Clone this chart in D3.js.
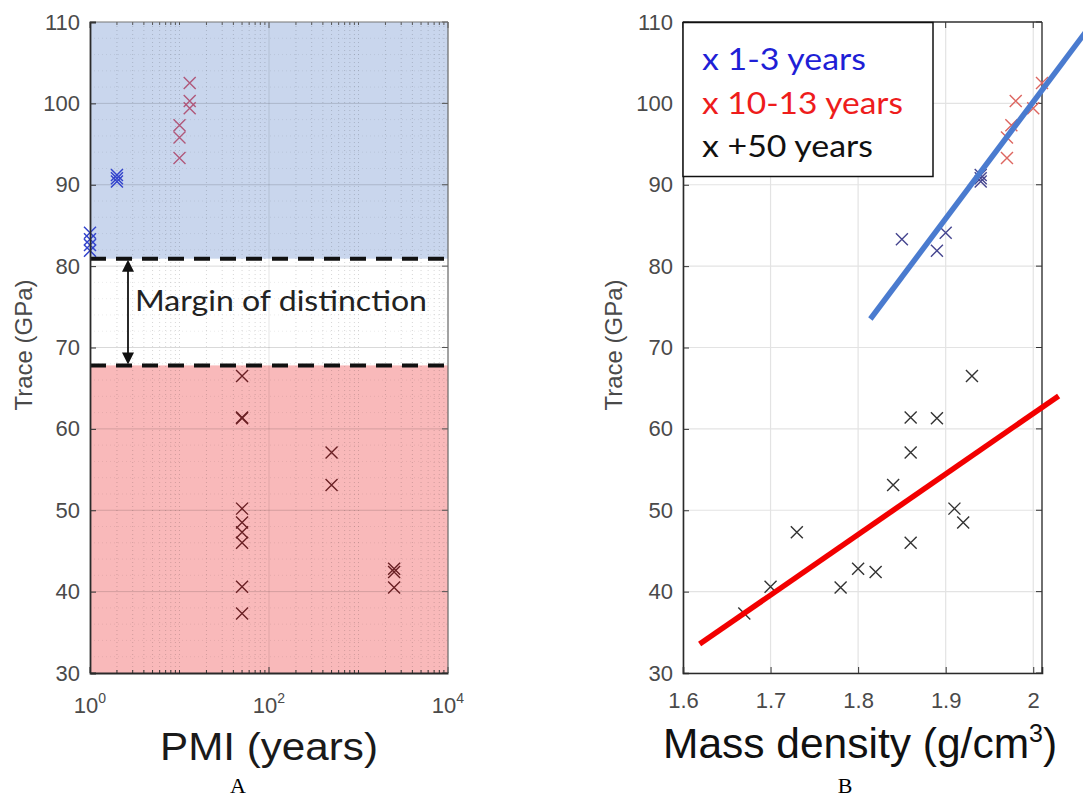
<!DOCTYPE html>
<html><head><meta charset="utf-8">
<script src="https://cdn.jsdelivr.net/npm/d3@7"></script>
<style>body{margin:0;background:#fff}svg{display:block}</style>
</head><body>
<svg id="c" width="1083" height="797"></svg>
<script>
// ---------- data ----------
const yTicks = [30,40,50,60,70,80,90,100,110];
const pmiTicks = [1,100,10000];
const pmiTickExp = ["0","2","4"];
const densityTicks = [1.6,1.7,1.8,1.9,2.0];
const densityTickLabels = ["1.6","1.7","1.8","1.9","2"];

// Panel A (PMI, years, log)
const pmi13 = [1,1,1,1,2,2,2];
const traceA13 = [84.1,83.3,82.6,81.9,91.2,90.8,90.4];
const pmi1013 = [10,10,10,13,13,13];
const traceA1013 = [97.3,95.8,93.3,102.5,100.3,99.4];
const pmi50 = [50,50,50,50,50,50,50,50,50,500,500,2500,2500,2500];
const traceA50 = [66.5,61.4,61.3,50.2,48.5,47.3,46.0,40.6,37.3,57.1,53.1,42.8,42.4,40.5];
const upperBound = 80.9, lowerBound = 67.8;

// Panel B (mass density)
const dens13 = [1.85,1.89,1.90,1.94,1.94,1.94];
const traceB13 = [83.3,81.9,84.1,91.2,90.8,90.4];
const dens1013 = [1.97,1.97,1.975,1.98,2.00,2.01];
const traceB1013 = [93.3,95.8,97.3,100.3,99.4,102.5];
const dens50 = [1.93,1.86,1.89,1.86,1.84,1.91,1.92,1.73,1.86,1.80,1.82,1.78,1.70,1.67];
const traceB50 = [66.5,61.4,61.3,57.1,53.1,50.2,48.5,47.3,46.0,42.8,42.4,40.5,40.6,37.3];
const fit13X = [1.814,2.06], fit13Y = [73.5,108.8];
const fit50X = [1.619,2.029], fit50Y = [33.55,64.05];
const legendLabels = ["x 1-3 years","x 10-13 years","x +50 years"];
const legendColors = ["#1f1fd6","#ee1c1c","#111"];

// ---------- drawing ----------
const svg = d3.select("#c");
const tickFont = "Liberation Sans, Arial, sans-serif";

const yA = d3.scaleLinear().domain([30,110]).range([673,22]);
const xA = d3.scaleLog().domain([1,10000]).range([90,448]);
const yB = yA.copy();
const xB = d3.scaleLinear().domain([1.6,2.01]).range([683,1042]);

function cross(g, xs, ys, sx, sy, color, sw){
  g.selectAll(null).data(xs.map((d,i)=>[d,ys[i]])).enter().append("path")
    .attr("d", d => { const x=sx(d[0]), y=sy(d[1]), s=6;
      return `M${x-s},${y-s}L${x+s},${y+s}M${x-s},${y+s}L${x+s},${y-s}`; })
    .attr("stroke", color).attr("stroke-width", sw||1.4).attr("fill","none");
}

// ===== Panel A =====
const A = svg.append("g");
const [ax0,ax1] = xA.range();
A.append("rect").attr("x",ax0).attr("y",yA(110)).attr("width",ax1-ax0).attr("height",yA(upperBound)-yA(110)).attr("fill","#c9d6ed");
A.append("rect").attr("x",ax0).attr("y",yA(upperBound)).attr("width",ax1-ax0).attr("height",yA(lowerBound)-yA(upperBound)).attr("fill","#ffffff");
A.append("rect").attr("x",ax0).attr("y",yA(lowerBound)).attr("width",ax1-ax0).attr("height",yA(30)-yA(lowerBound)).attr("fill","#f9b9ba");

// minor grids
const minorX = [];
for (let d=0; d<4; d++) for (let k=2;k<=10;k++){ const v=k*Math.pow(10,d); if(v<10000 && !pmiTicks.includes(v)) minorX.push(v); }
A.selectAll(null).data(minorX).enter().append("line")
  .attr("x1",d=>xA(d)).attr("x2",d=>xA(d)).attr("y1",yA(110)).attr("y2",yA(30))
  .attr("stroke","#000").attr("stroke-opacity",0.16).attr("stroke-dasharray","1,3");
const minorY = d3.range(32,110,2).filter(v=>v%10!==0);
A.selectAll(null).data(minorY).enter().append("line")
  .attr("x1",ax0).attr("x2",ax1).attr("y1",d=>yA(d)).attr("y2",d=>yA(d))
  .attr("stroke","#000").attr("stroke-opacity",0.08).attr("stroke-dasharray","1,3");
// major grids
A.selectAll(null).data(yTicks.slice(1,-1)).enter().append("line")
  .attr("x1",ax0).attr("x2",ax1).attr("y1",d=>yA(d)).attr("y2",d=>yA(d))
  .attr("stroke","#000").attr("stroke-opacity",0.15);
A.selectAll(null).data([100]).enter().append("line")
  .attr("x1",d=>xA(d)).attr("x2",d=>xA(d)).attr("y1",yA(110)).attr("y2",yA(30))
  .attr("stroke","#000").attr("stroke-opacity",0.1);

// points
cross(A, pmi13, traceA13, xA, yA, "#3344cc", 1.5);
cross(A, pmi1013, traceA1013, xA, yA, "#b0587a");
cross(A, pmi50, traceA50, xA, yA, "#6a2024");

// dashed boundaries
A.selectAll(null).data([upperBound, lowerBound]).enter().append("line")
  .attr("x1",ax0).attr("x2",ax1).attr("y1",d=>yA(d)).attr("y2",d=>yA(d))
  .attr("stroke","#111").attr("stroke-width",4).attr("stroke-dasharray","16,10");

// arrow
const arX = 128;
A.append("line").attr("x1",arX).attr("x2",arX).attr("y1",yA(upperBound)+10).attr("y2",yA(lowerBound)-10)
  .attr("stroke","#111").attr("stroke-width",1.8);
A.append("path").attr("d",`M${arX},${yA(upperBound)+1}l-6,12h12z`).attr("fill","#111");
A.append("path").attr("d",`M${arX},${yA(lowerBound)-1}l-6,-12h12z`).attr("fill","#111");
A.append("text").attr("x",135).attr("y",311).text("Margin of distinction")
  .attr("font-family","Lato, sans-serif").attr("font-size",28).attr("fill","#222")
  .attr("textLength",292).attr("lengthAdjust","spacingAndGlyphs");

// axes box + ticks
const allMinorTicks = minorX.concat([10,1000]);
A.selectAll(null).data(allMinorTicks).enter().append("line")
  .attr("x1",d=>xA(d)).attr("x2",d=>xA(d)).attr("y1",yA(30)).attr("y2",yA(30)-3).attr("stroke","#333");
A.selectAll(null).data(allMinorTicks).enter().append("line")
  .attr("x1",d=>xA(d)).attr("x2",d=>xA(d)).attr("y1",yA(110)).attr("y2",yA(110)+3).attr("stroke","#555");
A.selectAll(null).data(pmiTicks).enter().append("line")
  .attr("x1",d=>xA(d)).attr("x2",d=>xA(d)).attr("y1",yA(30)).attr("y2",yA(30)-6).attr("stroke","#333");
A.selectAll(null).data(pmiTicks).enter().append("line")
  .attr("x1",d=>xA(d)).attr("x2",d=>xA(d)).attr("y1",yA(110)).attr("y2",yA(110)+6).attr("stroke","#555");
A.selectAll(null).data(yTicks).enter().append("line")
  .attr("x1",ax1).attr("x2",ax1-6).attr("y1",d=>yA(d)).attr("y2",d=>yA(d)).attr("stroke","#555");
A.append("line").attr("x1",ax0).attr("x2",ax1).attr("y1",yA(110)).attr("y2",yA(110)).attr("stroke","#777").attr("stroke-width",1.2);
A.append("line").attr("x1",ax1).attr("x2",ax1).attr("y1",yA(110)).attr("y2",yA(30)).attr("stroke","#666").attr("stroke-width",1.2);
const axLeftA = A.append("g").attr("transform",`translate(${ax0},0)`)
  .call(d3.axisLeft(yA).tickValues(yTicks).tickSize(-6).tickPadding(10));
const axBotA = A.append("g").attr("transform",`translate(0,${yA(30)})`)
  .call(d3.axisBottom(xA).tickValues(pmiTicks).tickSize(0).tickFormat(""));
[axLeftA, axBotA].forEach(g=>{ g.select(".domain").attr("stroke","#2a2a2a").attr("stroke-width",1.8); g.selectAll(".tick line").attr("stroke","#333"); });
axLeftA.selectAll("text").attr("font-family",tickFont).attr("font-size",22).attr("fill","#4a4a4a");
// log tick labels with superscript
const xl = A.append("g").attr("font-family",tickFont).attr("fill","#4a4a4a");
pmiTicks.forEach((v,i)=>{
  const t = xl.append("text").attr("x",xA(v)).attr("y",713).attr("text-anchor","middle").attr("font-size",22);
  t.append("tspan").text("10");
  t.append("tspan").attr("dy",-10).attr("font-size",14).text(pmiTickExp[i]);
});
A.append("text").attr("transform",`translate(32,345) rotate(-90)`).attr("text-anchor","middle")
  .attr("font-family",tickFont).attr("font-size",24).attr("fill","#4a4a4a").text("Trace (GPa)");
A.append("text").attr("x",269).attr("y",760).attr("text-anchor","middle").text("PMI (years)")
  .attr("font-family",tickFont).attr("font-size",38).attr("fill","#1a1a1a")
  .attr("textLength",218).attr("lengthAdjust","spacingAndGlyphs");
A.append("text").attr("x",238).attr("y",793).attr("text-anchor","middle").text("A")
  .attr("font-family","Liberation Serif, serif").attr("font-size",22).attr("fill","#000");

// ===== Panel B =====
const B = svg.append("g");
const [bx0,bx1] = xB.range();
B.selectAll(null).data(densityTicks).enter().append("line")
  .attr("x1",d=>xB(d)).attr("x2",d=>xB(d)).attr("y1",yB(110)).attr("y2",yB(30)).attr("stroke","#e3e3e3").attr("stroke-width",1.2);
B.selectAll(null).data(yTicks).enter().append("line")
  .attr("x1",bx0).attr("x2",bx1).attr("y1",d=>yB(d)).attr("y2",d=>yB(d)).attr("stroke","#e3e3e3").attr("stroke-width",1.2);
// ticks
B.selectAll(null).data(densityTicks).enter().append("line")
  .attr("x1",d=>xB(d)).attr("x2",d=>xB(d)).attr("y1",yB(110)).attr("y2",yB(110)+6).attr("stroke","#333");
B.selectAll(null).data(yTicks).enter().append("line")
  .attr("x1",bx1).attr("x2",bx1-6).attr("y1",d=>yB(d)).attr("y2",d=>yB(d)).attr("stroke","#333");
B.append("line").attr("x1",bx0).attr("x2",bx1).attr("y1",yB(110)).attr("y2",yB(110)).attr("stroke","#333").attr("stroke-width",1.4);
B.append("line").attr("x1",bx1).attr("x2",bx1).attr("y1",yB(110)).attr("y2",yB(30)).attr("stroke","#333").attr("stroke-width",1.4);
const axLeftB = B.append("g").attr("transform",`translate(${bx0},0)`)
  .call(d3.axisLeft(yB).tickValues(yTicks).tickSize(-6).tickPadding(10));
const axBotB = B.append("g").attr("transform",`translate(0,${yB(30)})`)
  .call(d3.axisBottom(xB).tickValues(densityTicks).tickSize(-6).tickPadding(19).tickFormat((d,i)=>densityTickLabels[i]));
[axLeftB, axBotB].forEach(g=>{ g.select(".domain").attr("stroke","#2a2a2a").attr("stroke-width",1.6); g.selectAll(".tick line").attr("stroke","#333");
  g.selectAll("text").attr("font-family",tickFont).attr("font-size",22).attr("fill","#4a4a4a"); });

// points
cross(B, dens50, traceB50, xB, yB, "#333");
cross(B, dens1013, traceB1013, xB, yB, "#dd6660");
cross(B, dens13, traceB13, xB, yB, "#45458f");

// fit lines
const line = d3.line().x(d=>xB(d[0])).y(d=>yB(d[1]));
B.append("path").attr("d",line(fit13X.map((d,i)=>[d,fit13Y[i]]))).attr("stroke","#4a7bcf").attr("stroke-width",5.5).attr("fill","none");
B.append("path").attr("d",line(fit50X.map((d,i)=>[d,fit50Y[i]]))).attr("stroke","#f20000").attr("stroke-width",5.5).attr("fill","none");

// legend
const lg = B.append("g");
lg.append("rect").attr("x",683).attr("y",22.5).attr("width",250).attr("height",154).attr("fill","#fff").attr("stroke","#111").attr("stroke-width",1.5);
const legendWidths = [164,201,171];
legendLabels.forEach((t,i)=>{
  lg.append("text").attr("x",702).attr("y",70+i*43.5).text(t).attr("fill",legendColors[i])
    .attr("font-family","Lato, sans-serif").attr("font-size",31)
    .attr("textLength",legendWidths[i]).attr("lengthAdjust","spacingAndGlyphs");
});

B.append("text").attr("transform",`translate(622,345) rotate(-90)`).attr("text-anchor","middle")
  .attr("font-family",tickFont).attr("font-size",24).attr("fill","#4a4a4a").text("Trace (GPa)");
const mt = B.append("text").attr("x",663).attr("y",758).attr("font-family",tickFont).attr("font-size",42.5).attr("fill","#111");
mt.append("tspan").text("Mass density (g/cm");
mt.append("tspan").attr("dy",-16).attr("font-size",25).text("3");
mt.append("tspan").attr("dy",16).text(")");
B.append("text").attr("x",845).attr("y",793).attr("text-anchor","middle").text("B")
  .attr("font-family","Liberation Serif, serif").attr("font-size",22).attr("fill","#000");
</script>
</body></html>
